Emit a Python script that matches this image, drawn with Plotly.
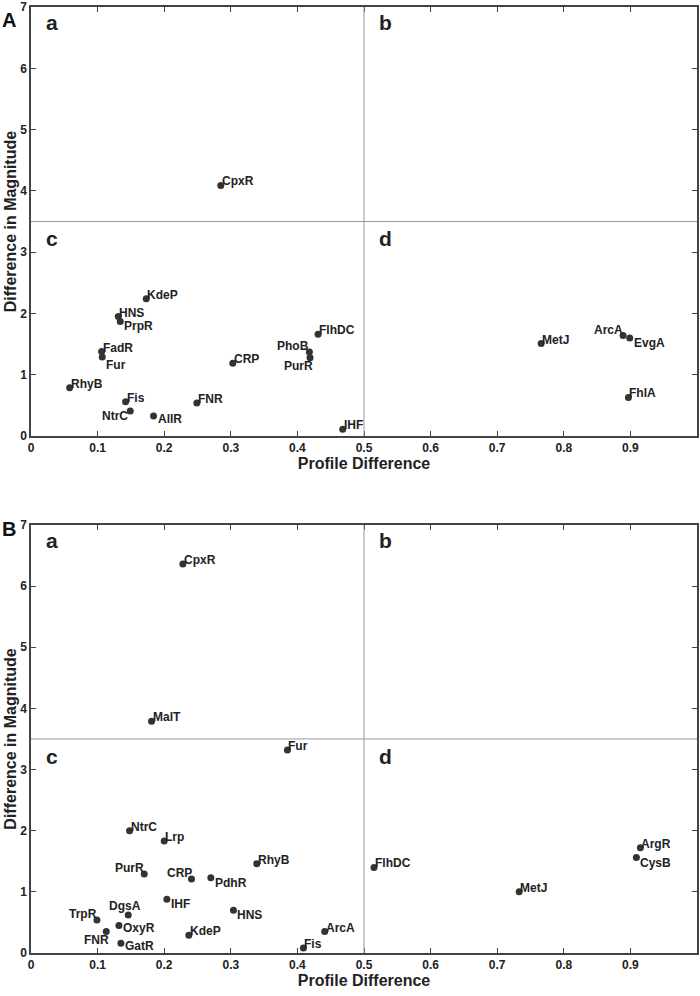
import plotly.graph_objects as go

# panel A
a_names = ["CpxR", "KdeP", "HNS", "PrpR", "FadR", "Fur", "RhyB", "Fis", "NtrC", "AllR",
           "FNR", "CRP", "PhoB", "PurR", "FlhDC", "IHF", "MetJ", "ArcA", "EvgA", "FhlA"]
a_profile = [0.285, 0.173, 0.131, 0.134, 0.106, 0.107, 0.058, 0.142, 0.149, 0.184,
             0.249, 0.303, 0.418, 0.419, 0.431, 0.468, 0.766, 0.889, 0.899, 0.897]
a_magnitude = [4.09, 2.24, 1.95, 1.87, 1.38, 1.29, 0.79, 0.56, 0.41, 0.33,
               0.54, 1.19, 1.37, 1.28, 1.66, 0.11, 1.51, 1.64, 1.60, 0.63]

# panel B
b_names = ["CpxR", "MalT", "Fur", "NtrC", "Lrp", "PurR", "CRP", "PdhR", "RhyB", "IHF",
           "DgsA", "TrpR", "OxyR", "FNR", "GatR", "KdeP", "HNS", "Fis", "ArcA",
           "FlhDC", "MetJ", "ArgR", "CysB"]
b_profile = [0.228, 0.181, 0.385, 0.148, 0.200, 0.170, 0.241, 0.270, 0.339, 0.204,
             0.146, 0.099, 0.132, 0.113, 0.135, 0.237, 0.304, 0.409, 0.441,
             0.515, 0.733, 0.915, 0.909]
b_magnitude = [6.36, 3.79, 3.32, 2.00, 1.83, 1.29, 1.21, 1.23, 1.46, 0.88,
               0.62, 0.54, 0.45, 0.35, 0.16, 0.29, 0.70, 0.08, 0.35,
               1.40, 1.00, 1.72, 1.56]

x_ticks = [0, 0.1, 0.2, 0.3, 0.4, 0.5, 0.6, 0.7, 0.8, 0.9, 1]
x_ticklabels = ["0", "0.1", "0.2", "0.3", "0.4", "0.5", "0.6", "0.7", "0.8", "0.9", "1"]
y_ticks = [0, 1, 2, 3, 4, 5, 6, 7]

# label placement (default "tr" = top right of the dot)
a_pos = {"PrpR": "br", "Fur": "rb", "PhoB": "tl", "PurR": "bl", "NtrC": "l",
         "AllR": "r", "ArcA": "tl", "EvgA": "br"}
b_pos = {"PurR": "tl", "CRP": "tl", "PdhR": "br", "IHF": "br", "DgsA": "t", "TrpR": "tl",
         "OxyR": "r", "FNR": "bl", "GatR": "r", "HNS": "br", "CysB": "br"}
# xanchor, yanchor, xshift, yshift
anchors = {
    "tr": ("left", "bottom", 0, -4),
    "br": ("left", "top", 3, 3),
    "rb": ("left", "top", 3, 0),
    "r": ("left", "middle", 3, -3),
    "l": ("right", "top", -1, 3),
    "tl": ("right", "bottom", 1, -2),
    "bl": ("right", "top", 4, 0),
    "t": ("center", "bottom", -3, 1),
}

FONT = "Arial, Liberation Sans, sans-serif"
ink = "#333333"
txt = "#222222"

fig = go.Figure()


def add_panel(names, xs, ys, pos, xa, ya):
    fig.add_trace(go.Scatter(
        x=xs, y=ys, mode="markers", marker=dict(color=ink, size=7),
        xaxis=xa, yaxis=ya, showlegend=False, cliponaxis=False, hovertext=names,
    ))
    for n, x, y in zip(names, xs, ys):
        xan, yan, dx, dy = anchors[pos.get(n, "tr")]
        fig.add_annotation(x=x, y=y, xref=xa, yref=ya, text=n, showarrow=False,
                           xanchor=xan, yanchor=yan, xshift=dx, yshift=dy, borderpad=0,
                           font=dict(family=FONT, size=12, color=txt, weight="bold"))


add_panel(a_names, a_profile, a_magnitude, a_pos, "x", "y")
add_panel(b_names, b_profile, b_magnitude, b_pos, "x2", "y2")

axis_common = dict(
    range=[0, 1], showgrid=False, zeroline=False, showline=True, linecolor="#444444",
    linewidth=1.5, mirror="ticks", ticks="inside", ticklen=5, tickcolor="#444444",
    tickfont=dict(family=FONT, size=12, color=txt, weight="bold"),
    tickvals=x_ticks, ticktext=x_ticklabels, automargin=False,
    title=dict(text="Profile Difference", standoff=2,
               font=dict(family=FONT, size=16, color=txt, weight="bold")),
)
yaxis_common = dict(
    range=[0, 7], showgrid=False, zeroline=False, showline=True, linecolor="#444444",
    linewidth=1.5, mirror="ticks", ticks="inside", ticklen=5, tickcolor="#444444",
    tickfont=dict(family=FONT, size=12, color=txt, weight="bold"),
    tickvals=y_ticks, automargin=False, ticklabeloverflow="allow",
    title=dict(text="Difference in Magnitude", standoff=0,
               font=dict(family=FONT, size=16, color=txt, weight="bold")),
)

fig.update_layout(
    width=700, height=996,
    margin=dict(l=31, r=3, t=7, b=43),
    plot_bgcolor="white", paper_bgcolor="white",
    xaxis=dict(axis_common, domain=[0, 1], anchor="y"),
    yaxis=dict(yaxis_common, domain=[0.5464, 1], anchor="x"),
    xaxis2=dict(axis_common, domain=[0, 1], anchor="y2"),
    yaxis2=dict(yaxis_common, domain=[0, 0.4525], anchor="x2"),
)

# quadrant dividers and letters
for xr, yr in [("x", "y"), ("x2", "y2")]:
    fig.add_shape(type="line", xref=xr, yref=yr, x0=0.5, x1=0.5, y0=0, y1=7,
                  line=dict(color="#999999", width=1))
    fig.add_shape(type="line", xref=xr, yref=yr, x0=0, x1=1, y0=3.5, y1=3.5,
                  line=dict(color="#999999", width=1))
    for letter, lx, ly in [("a", 0.02, 6.75), ("b", 0.52, 6.75), ("c", 0.02, 3.22), ("d", 0.52, 3.22)]:
        fig.add_annotation(x=lx, y=ly, xref=xr, yref=yr, text=letter, showarrow=False,
                           xanchor="left", yanchor="middle",
                           font=dict(family=FONT, size=21, color=txt, weight="bold"))

for label, py in [("A", 1.0), ("B", 0.462)]:
    fig.add_annotation(x=-0.046, y=py, xref="paper", yref="paper", text=label, showarrow=False,
                       xanchor="left", yanchor="top",
                       font=dict(family=FONT, size=20, color="#111111", weight="bold"))

# drop the default page margin so the figure sits at the window's corner
fig.write_html("out.html", config={"displayModeBar": False},
               post_script="document.body.style.margin='0';")
